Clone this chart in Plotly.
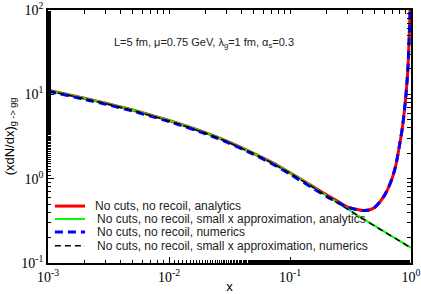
import plotly.graph_objects as go

# x grid (momentum fraction)
x_vals = [0.001, 0.002, 0.003, 0.005, 0.007, 0.01, 0.02, 0.03, 0.05, 0.07, 0.1,
          0.15, 0.2, 0.25, 0.3, 0.35, 0.4, 0.45, 0.5, 0.55, 0.6, 0.65, 0.7,
          0.75, 0.8, 0.85, 0.9, 0.93, 0.95, 0.97, 0.98, 0.99]
x_approx = [0.001, 0.002, 0.003, 0.005, 0.007, 0.01, 0.02, 0.03, 0.05, 0.07, 0.1,
            0.15, 0.2, 0.25, 0.3, 0.35, 0.4, 0.45, 0.5, 0.55, 0.6, 0.65, 0.7,
            0.75, 0.8, 0.85, 0.9, 0.93, 0.95, 0.97, 0.98, 1.0]

# full analytic result
analytic = [11.2, 8.97, 7.85, 6.53, 5.69, 4.90, 3.51, 2.79, 2.00, 1.57, 1.175,
            0.83, 0.645, 0.535, 0.46, 0.435, 0.42, 0.425, 0.455, 0.525, 0.625, 0.78, 1.02,
            1.45, 2.4, 4.1, 8.5, 15, 25, 55, 85, 170]
# small x approximation, analytic
approx_analytic = [11.2, 8.97, 7.85, 6.53, 5.69, 4.90, 3.51, 2.79, 2.00, 1.57, 1.175,
                   0.822, 0.631, 0.516, 0.437, 0.380, 0.337, 0.303, 0.277, 0.254, 0.236,
                   0.220, 0.2065, 0.195, 0.184, 0.1746, 0.166, 0.161, 0.1585, 0.1556,
                   0.154, 0.151]
# numerics
numerics = [10.9, 8.72, 7.62, 6.33, 5.52, 4.76, 3.41, 2.71, 1.94, 1.52, 1.13,
            0.79, 0.615, 0.52, 0.455, 0.433, 0.42, 0.425, 0.455, 0.525, 0.625, 0.78, 1.02,
            1.45, 2.4, 4.1, 8.5, 15, 25, 55, 85, 170]
# small x approximation, numerics
approx_numerics = [11.05, 8.85, 7.75, 6.44, 5.61, 4.83, 3.46, 2.75, 1.97, 1.55, 1.16,
                   0.812, 0.624, 0.511, 0.433, 0.377, 0.335, 0.301, 0.275, 0.253, 0.235,
                   0.219, 0.206, 0.1945, 0.1835, 0.1742, 0.1657, 0.1607, 0.1583, 0.1555,
                   0.1539, 0.151]

series_names = ["No cuts, no recoil, analytics",
                "No cuts, no recoil, small x approximation, analytics",
                "No cuts, no recoil, numerics",
                "No cuts, no recoil, small x approximation, numerics"]
series_colors = ["#ff0000", "#00ff00", "#0000ff", "#000000"]
series_widths = [3, 2, 3, 1.5]
series_dash = ["solid", "solid", "8px,5px", "6px,4px"]

x_tickvals = [1e-3, 1e-2, 1e-1, 1]
x_ticktext = ["10<sup>-3</sup>", "10<sup>-2</sup>", "10<sup>-1</sup>", "10<sup>0</sup>"]
y_tickvals = [1e-1, 1, 10, 100]
y_ticktext = ["10<sup>-1</sup>", "10<sup>0</sup>", "10<sup>1</sup>", "10<sup>2</sup>"]

# tick positions for the mirrored (top / right) sides: decades and 2..9 sub-ticks
x_mirror_ticks = [m * d for d in (1e-3, 1e-2, 1e-1) for m in range(1, 10)] + [1.0]
y_mirror_ticks = [m * d for d in (1e-1, 1, 10) for m in range(1, 10)] + [100.0]

series_x = [x_vals, x_approx, x_vals, x_approx]
series_y = [analytic, approx_analytic, numerics, approx_numerics]

fig = go.Figure()
for i in range(4):
    fig.add_trace(go.Scatter(x=series_x[i], y=series_y[i], mode="lines", name=series_names[i],
                             showlegend=False,
                             line=dict(color=series_colors[i], width=series_widths[i],
                                       dash=series_dash[i], shape="spline", smoothing=0.7)))
# invisible trace so the top/right tick axes are drawn
fig.add_trace(go.Scatter(x=[x_vals[0]], y=[analytic[0]], xaxis="x2", yaxis="y2",
                         mode="markers", marker=dict(opacity=0), hoverinfo="skip",
                         showlegend=False))

base = dict(type="log", ticks="inside", tickwidth=1, tickcolor="black",
            showgrid=False, zeroline=False,
            showline=True, linecolor="black", linewidth=1.5)

fig.update_layout(
    xaxis=dict(range=[-3, 0], tickvals=x_tickvals, ticktext=x_ticktext, automargin=False,
               ticklen=6,
               minor=dict(ticks="inside", ticklen=3, tickcolor="black", showgrid=False),
               tickfont=dict(family="Liberation Serif", size=14, color="black"),
               title=dict(text="x", font=dict(family="Liberation Sans", size=13, color="black"),
                          standoff=0),
               **base),
    yaxis=dict(range=[-1, 2], tickvals=y_tickvals, ticktext=y_ticktext, automargin=False,
               ticklen=6,
               minor=dict(ticks="inside", ticklen=3, tickcolor="black", showgrid=False),
               tickfont=dict(family="Liberation Serif", size=14, color="black"),
               title=dict(text="(xdN/dx)<sub>g -> gg</sub>",
                          font=dict(family="Liberation Sans", size=13, color="black"),
                          standoff=4),
               **base),
    xaxis2=dict(range=[-3, 0], tickmode="array", tickvals=x_mirror_ticks, ticklen=4,
                overlaying="x", side="top", anchor="y2",
                showticklabels=False, automargin=False, **base),
    yaxis2=dict(range=[-1, 2], tickmode="array", tickvals=y_mirror_ticks, ticklen=4,
                overlaying="y", side="right", anchor="x2",
                showticklabels=False, automargin=False, **base),
)

fig.add_annotation(x=0.682, y=0.905, xref="paper", yref="paper", showarrow=False,
                   text="L=5 fm, μ=0.75 GeV, λ<sub>g</sub>=1 fm, α<sub>s</sub>=0.3",
                   font=dict(family="Liberation Sans", size=11, color="#222222"))

# manual legend (compact, like the reference)
leg_y = [0.225, 0.174, 0.123, 0.068]
leg_text_x = [0.124, 0.13, 0.13, 0.13]
for i in range(4):
    fig.add_shape(type="line", xref="paper", yref="paper",
                  x0=0.019, x1=0.102, y0=leg_y[i], y1=leg_y[i],
                  line=dict(color=series_colors[i], width=series_widths[i],
                            dash=series_dash[i]))
    fig.add_annotation(x=leg_text_x[i], y=leg_y[i], xref="paper", yref="paper",
                       xanchor="left", yanchor="middle", showarrow=False,
                       text=series_names[i],
                       font=dict(family="Liberation Sans", size=12, color="#222222"))

fig.update_layout(
    width=421, height=294,
    margin=dict(l=48, r=10, t=10, b=31),
    plot_bgcolor="white", paper_bgcolor="white",
    showlegend=False,
)

fig.write_html("out.html", config={"displayModeBar": False},
               post_script="document.body.style.margin='0px';")
